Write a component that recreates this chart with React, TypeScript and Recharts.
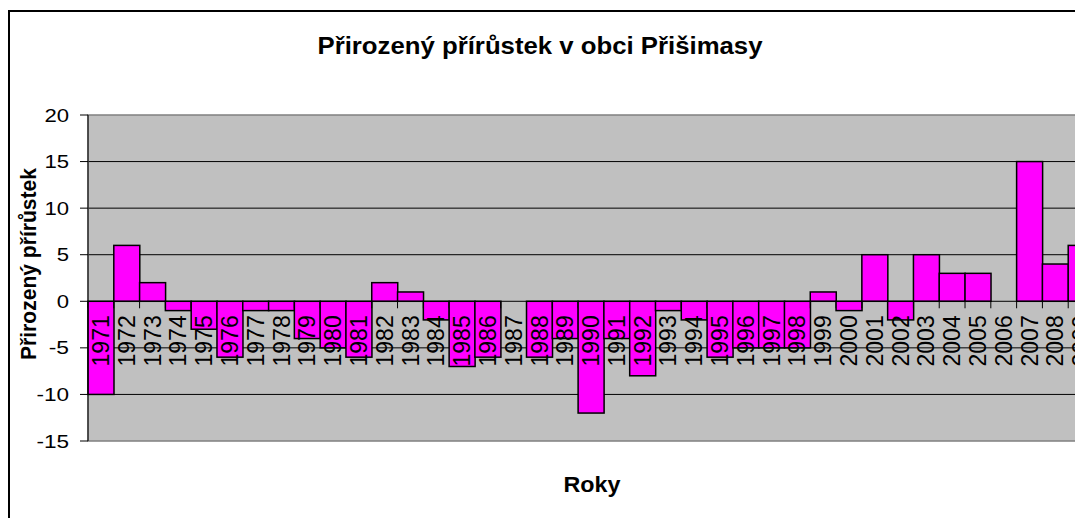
import { BarChart, Bar, XAxis, YAxis, CartesianGrid, ReferenceLine, ReferenceArea, LabelList } from 'recharts';

const years = [
  '1971', '1972', '1973', '1974', '1975', '1976', '1977', '1978', '1979', '1980',
  '1981', '1982', '1983', '1984', '1985', '1986', '1987', '1988', '1989', '1990',
  '1991', '1992', '1993', '1994', '1995', '1996', '1997', '1998', '1999', '2000',
  '2001', '2002', '2003', '2004', '2005', '2006', '2007', '2008', '2009',
];
const growth = [
  -10, 6, 2, -1, -3, -6, -1, -1, -4, -5,
  -6, 2, 1, -2, -7, -6, 0, -6, -4, -12,
  -4, -8, -1, -2, -6, -5, -5, -5, 1, -1,
  5, -2, 5, 3, 3, 0, 15, 4, 6,
];
const yTicks = [-15, -10, -5, 0, 5, 10, 15, 20];

const title = 'Přirozený přírůstek v obci Přišimasy';
const yTitle = 'Přirozený přírůstek';
const xTitle = 'Roky';

const data = years.map((y, i) => ({ year: y, value: growth[i] }));
const font = '"Liberation Sans", Arial, sans-serif';

// bar + small tick mark on the zero line at the left edge of the category
const BarShape = (p: any) => {
  const { x, y, width, height } = p;
  const zero = y + height;
  const top = Math.min(y, zero);
  const h = Math.abs(height);
  return (
    <g>
      <line x1={x} x2={x} y1={zero} y2={zero + 7} stroke="#000" strokeWidth={1} />
      {h > 0 && <rect x={x} y={top} width={width} height={h} fill="#FF00FF" stroke="#000" strokeWidth={1.5} />}
    </g>
  );
};

// year labels sit just under the zero line, rotated
const YearLabel = (p: any) => {
  const vb = p.viewBox || p;
  const x = Number(vb.x), y = Number(vb.y), w = Number(vb.width), h = Number(vb.height);
  if (isNaN(x)) return null;
  const cx = x + w / 2;
  const cy = y + h + 14;
  return (
    <text x={cx} y={cy} transform={`rotate(-90 ${cx} ${cy})`} textAnchor="end" dominantBaseline="central"
      fontSize={23} fontFamily={font} fill="#000">{p.value}</text>
  );
};

const YTick = (p: any) => {
  const { x, y, payload } = p;
  const s = String(payload.value);
  const len = s.replace('-', '').length * 12.3 + (s.startsWith('-') ? 8 : 0);
  return (
    <text x={x} y={y} textAnchor="end" dominantBaseline="central" fontSize={19} fontFamily={font} fill="#000"
      textLength={len} lengthAdjust="spacingAndGlyphs">{s}</text>
  );
};

export default function App() {
  return (
    <div style={{ position: 'relative', width: 1075, height: 510, overflow: 'hidden', background: '#fff' }}>
      <div style={{ position: 'absolute', left: 0, top: 2, width: 2000, height: 2000, border: '2px solid #000' }} />
      <div style={{ position: 'absolute', left: 0, top: 0 }}>
        <BarChart width={1130} height={500} data={data} margin={{ top: 107, right: 44, bottom: 67, left: 0 }}
          barCategoryGap={0} barGap={0}>
          <CartesianGrid vertical={false} fill="#C0C0C0" stroke="#000" strokeWidth={1}
            horizontalValues={yTicks.filter(t => t !== 0 && t !== 20 && t !== -15)} />
          <ReferenceArea y1={-15} y2={20} fill="none" stroke="#808080" strokeWidth={1.5} />
          <XAxis dataKey="year" hide />
          <YAxis width={80} domain={[-15, 20]} ticks={yTicks} interval={0} tickSize={8} tickMargin={11}
            axisLine={{ stroke: '#000' }} tickLine={{ stroke: '#000' }} tick={<YTick />} />
          <Bar dataKey="value" isAnimationActive={false} shape={<BarShape />}>
            <LabelList dataKey="year" content={<YearLabel />} />
          </Bar>
          <ReferenceLine y={0} stroke="#000" strokeWidth={1} />
        </BarChart>
      </div>
      <svg width={1075} height={510} style={{ position: 'absolute', left: 0, top: 0, pointerEvents: 'none' }}>
        <text x={532} y={46} textAnchor="middle" fontSize={23} fontWeight="bold" fontFamily={font}
          textLength={445} lengthAdjust="spacingAndGlyphs">{title}</text>
        <text x={584} y={484} textAnchor="middle" fontSize={22} fontWeight="bold" fontFamily={font}
          textLength={57} lengthAdjust="spacingAndGlyphs">{xTitle}</text>
        <text x={28} y={256} transform="rotate(-90 28 256)" textAnchor="middle" fontSize={22} fontWeight="bold"
          fontFamily={font} textLength={192} lengthAdjust="spacingAndGlyphs">{yTitle}</text>
      </svg>
    </div>
  );
}
